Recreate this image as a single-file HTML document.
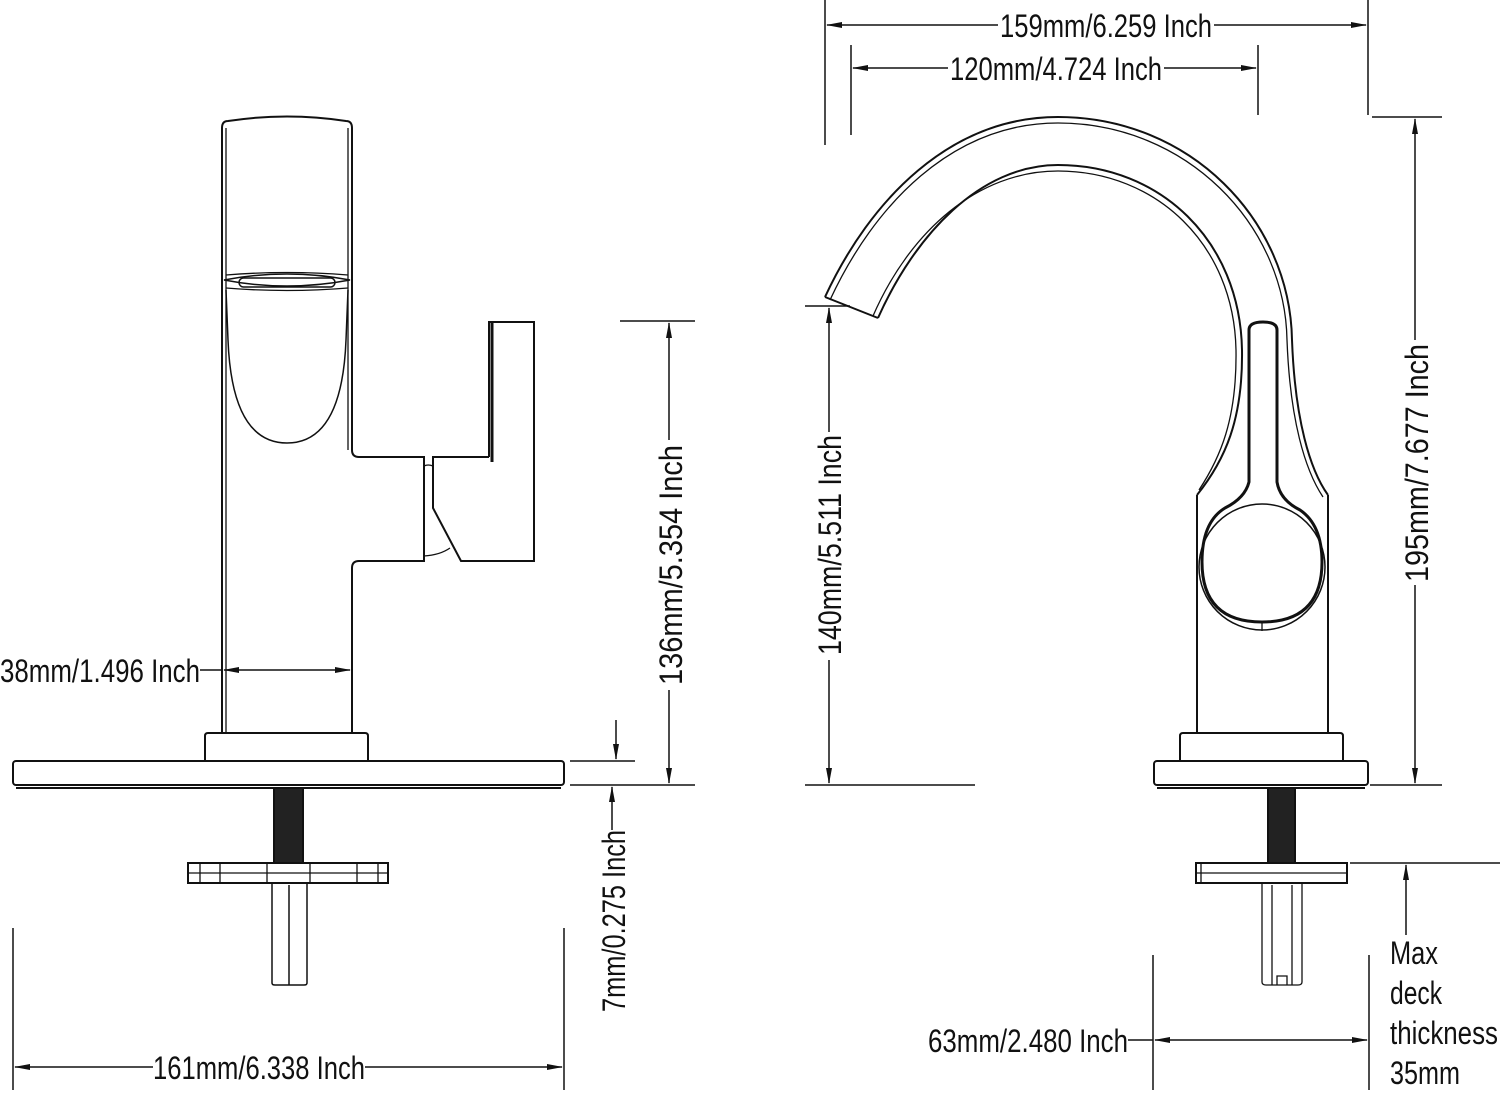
<!DOCTYPE html>
<html><head><meta charset="utf-8"><style>
html,body{margin:0;padding:0;background:#fff;}
svg{display:block}
text{font-family:"Liberation Sans",sans-serif;font-size:32px;fill:#111;}
</style></head><body>
<svg width="1500" height="1094" viewBox="0 0 1500 1094" xmlns="http://www.w3.org/2000/svg">
<defs>
<marker id="a" markerWidth="16" markerHeight="8" refX="15" refY="4" orient="auto" markerUnits="userSpaceOnUse">
<path d="M0,1 L16,4 L0,7 Z" fill="#111"/></marker>
</defs>
<g fill="none" stroke="#111" stroke-width="2">
<path d="M222,733 L222,128 Q222,121 228,121 Q287,112 346,121 Q352,121 352,128 L352,450 Q352,457 359,457 L424,457 L424,561 L359,561 Q352,561 352,568 L352,733"/>
<path d="M226,128 L226,733" stroke-width="1.3"/>
<path d="M348,128 L348,450" stroke-width="1.3"/>
<path d="M224,280 Q287,268 350,280 Q287,292 224,280 Z" stroke-width="1.5"/>
<path d="M226,275 Q287,270 348,275 M226,288 Q287,293 348,288" stroke-width="1.3"/>
<rect x="239" y="278" width="96" height="9" rx="4.5" stroke-width="1.5"/>
<path d="M226,290 L228,340 Q232,443 287,443 Q342,443 346,340 L348,290" stroke-width="1.5"/>
<path d="M489,457 L489,322 L534,322 L534,561 L461,561 L433,508 L433,457 L489,457"/>
<path d="M492,322 L492,462" stroke-width="3"/>
<path d="M424,466 Q428,464 433,466 M424,556 Q440,555 450,548" stroke-width="1.3"/>
<path d="M205,761 L205,736 Q205,733 208,733 L365,733 Q368,733 368,736 L368,761"/>
<rect x="13" y="761" width="551" height="24" rx="3"/>
<path d="M16,788 L561,788"/>
<rect x="274" y="788" width="29" height="75" fill="#222"/>
<rect x="188" y="863" width="200" height="20"/>
<path d="M188,873 L388,873 M200,863 V883 M220,863 V883 M267,863 V883 M310,863 V883 M357,863 V883 M378,863 V883" stroke-width="1.3"/>
<path d="M272,883 L272,983 Q272,985 275,985 L304,985 Q307,985 307,983 L307,883 M289,885 L289,985" stroke-width="1.5"/>
<path d="M825,297 C870,200 950,117 1058,117 C1190,117 1290,220 1292,340 C1295,420 1310,470 1328,495"/>
<path d="M830,300 C874,205 952,123 1058,123 C1186,123 1285,224 1287,340 C1290,420 1305,470 1323,497" stroke-width="1.3"/>
<path d="M878,318 C915,235 980,165 1058,165 C1160,165 1240,240 1242,350 C1243,420 1225,460 1197,495"/>
<path d="M873,316 C910,231 978,171 1058,171 C1156,171 1234,244 1236,350 C1237,420 1220,458 1199,490" stroke-width="1.3"/>
<path d="M825,297 L878,318"/>
<path d="M1197,495 L1197,733 M1328,495 L1328,733"/>
<circle cx="1262" cy="567" r="63" stroke-width="1.5"/>
<path d="M1249,482 L1249,330 Q1249,322 1263,322 Q1277,322 1277,330 L1277,482 Q1280,500 1300,510 Q1322,525 1322,562 Q1322,622 1262,622 Q1202,622 1202,562 Q1202,522 1225,508 Q1245,498 1249,482 Z" stroke-width="3"/>
<path d="M1262,622 L1262,631" stroke-width="1.3"/>
<path d="M1180,761 L1180,736 Q1180,733 1183,733 L1340,733 Q1343,733 1343,736 L1343,761"/>
<rect x="1154" y="761" width="214" height="24" rx="3"/>
<path d="M1157,788 L1365,788"/>
<rect x="1268" y="788" width="27" height="75" fill="#222"/>
<rect x="1196" y="863" width="151" height="20"/>
<path d="M1196,873 L1347,873 M1201,863 V883" stroke-width="1.3"/>
<path d="M1262,883 L1262,982 Q1262,985 1266,985 L1298,985 Q1302,985 1302,982 L1302,883 M1272,885 L1272,985 M1292,885 L1292,985 M1277,985 L1277,976 L1287,976 L1287,985" stroke-width="1.3"/>
</g>
<g fill="none" stroke="#111" stroke-width="1.5">
<path d="M200,670 L222,670"/>
<path d="M287,670 L224,670" marker-end="url(#a)"/><path d="M287,670 L350,670" marker-end="url(#a)"/>
<path d="M13,928 V1090 M564,928 V1090"/>
<path d="M153,1067 L15,1067" marker-end="url(#a)"/><path d="M365,1067 L562,1067" marker-end="url(#a)"/>
<path d="M570,761 L635,761 M570,785 L695,785 M620,321 L695,321"/>
<path d="M616,720 L616,759" marker-end="url(#a)"/>
<path d="M612,830 L612,787" marker-end="url(#a)"/>
<path d="M669,440 L669,323" marker-end="url(#a)"/><path d="M669,690 L669,783" marker-end="url(#a)"/>
<path d="M825,0 V145 M1368,0 V115 M851,45 V135 M1258,45 V115"/>
<path d="M998,25 L827,25" marker-end="url(#a)"/><path d="M1214,25 L1366,25" marker-end="url(#a)"/>
<path d="M948,68 L853,68" marker-end="url(#a)"/><path d="M1164,68 L1256,68" marker-end="url(#a)"/>
<path d="M1372,117 L1442,117 M1370,785 L1442,785"/>
<path d="M1415,340 L1415,119" marker-end="url(#a)"/><path d="M1415,585 L1415,783" marker-end="url(#a)"/>
<path d="M805,306 L850,306 M805,785 L975,785"/>
<path d="M829,432 L829,308" marker-end="url(#a)"/><path d="M829,660 L829,783" marker-end="url(#a)"/>
<path d="M1350,863 L1532,863"/>
<path d="M1406,935 L1406,865" marker-end="url(#a)"/>
<path d="M1153,955 V1090 M1369,955 V1090 M1128,1040 L1153,1040"/>
<path d="M1260,1040 L1155,1040" marker-end="url(#a)"/><path d="M1260,1040 L1367,1040" marker-end="url(#a)"/>
</g>
<g>
<text x="0" y="682" textLength="200" lengthAdjust="spacingAndGlyphs">38mm/1.496 Inch</text>
<text x="153" y="1079" textLength="212" lengthAdjust="spacingAndGlyphs">161mm/6.338 Inch</text>
<text x="1000" y="37" textLength="212" lengthAdjust="spacingAndGlyphs">159mm/6.259 Inch</text>
<text x="950" y="80" textLength="212" lengthAdjust="spacingAndGlyphs">120mm/4.724 Inch</text>
<text x="928" y="1052" textLength="200" lengthAdjust="spacingAndGlyphs">63mm/2.480 Inch</text>
<text transform="translate(682,685) rotate(-90)" textLength="240" lengthAdjust="spacingAndGlyphs">136mm/5.354 Inch</text>
<text transform="translate(841,655) rotate(-90)" textLength="220" lengthAdjust="spacingAndGlyphs">140mm/5.511 Inch</text>
<text transform="translate(1428,582) rotate(-90)" textLength="238" lengthAdjust="spacingAndGlyphs">195mm/7.677 Inch</text>
<text transform="translate(625,1012) rotate(-90)" textLength="182" lengthAdjust="spacingAndGlyphs">7mm/0.275 Inch</text>
<text x="1390" y="964" textLength="48" lengthAdjust="spacingAndGlyphs">Max</text>
<text x="1390" y="1004" textLength="52" lengthAdjust="spacingAndGlyphs">deck</text>
<text x="1390" y="1044" textLength="108" lengthAdjust="spacingAndGlyphs">thickness</text>
<text x="1390" y="1084" textLength="70" lengthAdjust="spacingAndGlyphs">35mm</text>
</g>
</svg>
</body></html>
